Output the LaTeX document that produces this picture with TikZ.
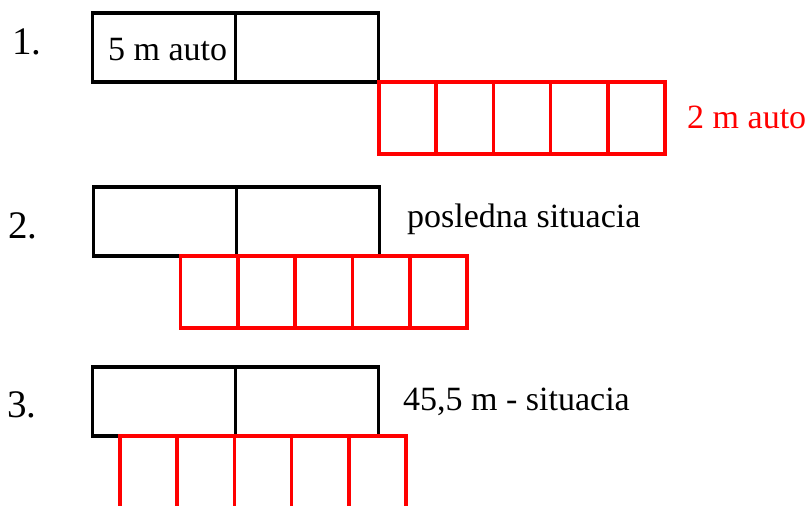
\documentclass[tikz,border=0pt]{standalone}
\usepackage{fontspec}
\setmainfont{Liberation Serif}
\begin{document}
\begin{tikzpicture}[x=1pt,y=-1pt,
  cell/.style={draw,line width=3.6pt,inner sep=0pt,outer sep=0pt,anchor=north west},
  blackcell/.style={cell,black,minimum width=143pt,minimum height=69pt},
  redcell/.style={cell,red,minimum width=57.2pt,minimum height=72pt},
  lbl/.style={inner sep=0pt,anchor=base west,font=\fontsize{34}{40}\selectfont},
  num/.style={inner sep=0pt,anchor=base west,font=\fontsize{39}{46}\selectfont}]
\useasboundingbox (0,0) rectangle (807,506);
\clip (0,0) rectangle (807,506);

% case 1: the cars before they meet
\node[blackcell] (a1) at (92.5,13) {};
\node[blackcell] (b1) at (a1.north east) {};
\foreach \i in {0,...,4}
  \node[redcell] (r1\i) at (379+57.2*\i,82) {};
\node[num] (n1) at (12,54) {1.};
\node[lbl] (t1) at (108,60) {5 m auto};
\node[lbl,text=red] (t1r) at (687,128) {2 m auto};

% case 2
\node[blackcell] (a2) at (93.5,187) {};
\node[blackcell] (b2) at (a2.north east) {};
\foreach \i in {0,...,4}
  \node[redcell] (r2\i) at (180.5+57.3*\i,256) {};
\node[num] (n2) at (8,238) {2.};
\node[lbl] (t2) at (407,227) {posledna situacia};

% case 3
\node[blackcell] (a3) at (92.5,367) {};
\node[blackcell] (b3) at (a3.north east) {};
\foreach \i in {0,...,4}
  \node[redcell] (r3\i) at (120+57.2*\i,436) {};
\node[num] (n3) at (7,417) {3.};
\node[lbl] (t3) at (403,410) {45,5 m - situacia};
\end{tikzpicture}
\end{document}
